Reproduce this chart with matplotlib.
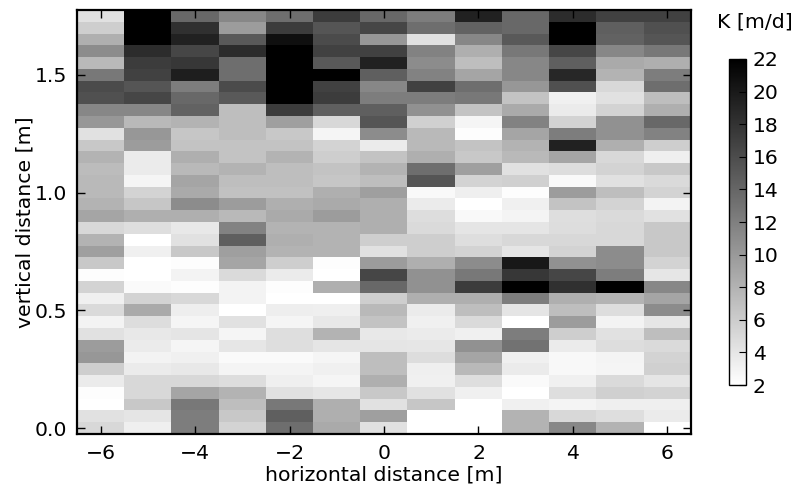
import numpy as np
import matplotlib
matplotlib.use("Agg")
import matplotlib.pyplot as plt

# K [m/d] por celda, fila de arriba (1.75 m) hacia abajo (0.0 m)
K_rows = [
    [4.4, 22, 13.8, 11.4, 13.4, 17.3, 13.8, 12.2, 19.3, 13.8, 18.5, 16.9, 16.9],
    [5.9, 22, 18.2, 9.8, 17.3, 15.3, 16.5, 13.4, 14.2, 13.8, 22, 14.5, 15.7],
    [8.3, 22, 19.3, 14.9, 20.8, 16.1, 10.2, 4.4, 11.4, 14.9, 22, 14.2, 15.3],
    [11.0, 18.5, 16.5, 18.5, 22, 16.9, 16.9, 11.8, 8.3, 12.6, 16.5, 11.4, 12.6],
    [7.5, 17.3, 17.7, 13.4, 22, 14.9, 19.3, 11.0, 7.1, 11.4, 14.5, 8.7, 8.3],
    [12.6, 16.9, 19.6, 13.4, 22, 22, 14.5, 11.8, 9.1, 11.4, 18.9, 7.9, 12.2],
    [16.1, 15.3, 12.2, 16.1, 22, 16.9, 11.4, 16.9, 13.4, 10.2, 15.7, 5.1, 13.4],
    [15.7, 16.5, 13.8, 14.9, 22, 17.3, 12.2, 12.2, 12.6, 6.7, 3.2, 4.4, 7.1],
    [11.4, 11.4, 14.2, 7.1, 17.3, 14.5, 14.5, 10.6, 6.7, 8.7, 3.6, 5.4, 8.3],
    [10.2, 7.5, 7.9, 7.1, 9.5, 5.1, 15.3, 5.7, 2.8, 11.8, 5.4, 10.6, 13.8],
    [4.4, 10.2, 6.5, 7.1, 6.3, 2.8, 11.0, 7.5, 2.2, 9.1, 12.2, 10.6, 11.8],
    [6.3, 9.8, 6.7, 6.7, 6.7, 5.4, 3.6, 7.5, 6.7, 7.9, 19.3, 8.3, 5.9],
    [7.9, 3.6, 8.3, 6.7, 7.9, 5.9, 6.7, 8.3, 6.3, 7.5, 9.1, 5.1, 3.3],
    [7.3, 3.6, 7.5, 7.9, 7.1, 6.7, 7.9, 13.4, 9.5, 4.4, 4.7, 5.4, 6.3],
    [7.5, 2.8, 9.1, 7.1, 7.1, 6.5, 7.1, 15.3, 5.5, 5.7, 2.5, 4.4, 4.9],
    [7.5, 5.5, 8.7, 6.9, 6.9, 8.3, 9.5, 2.5, 3.3, 2.2, 9.8, 7.1, 5.4],
    [7.9, 6.5, 11.0, 9.8, 8.3, 8.7, 8.3, 3.6, 2.0, 3.2, 6.7, 5.4, 3.0],
    [9.1, 8.3, 8.3, 7.5, 8.7, 9.8, 8.3, 4.7, 2.5, 2.9, 4.6, 4.9, 4.4],
    [5.1, 4.6, 3.8, 11.8, 7.9, 7.9, 8.3, 4.9, 4.1, 4.1, 4.7, 5.1, 6.3],
    [7.9, 2.0, 4.4, 14.5, 8.3, 7.9, 5.9, 5.9, 4.6, 5.1, 5.1, 5.1, 6.3],
    [9.5, 3.2, 6.3, 9.5, 7.9, 7.9, 4.4, 5.9, 5.5, 4.1, 5.4, 11.0, 6.3],
    [6.3, 2.0, 2.2, 9.1, 5.9, 2.2, 9.8, 8.3, 11.0, 20.0, 10.6, 11.0, 5.4],
    [2.2, 2.0, 3.0, 4.9, 3.6, 2.0, 16.5, 10.6, 12.6, 17.7, 16.5, 12.2, 4.0],
    [5.5, 2.4, 2.2, 3.0, 2.2, 8.3, 13.8, 10.6, 17.3, 22, 18.2, 22, 11.4],
    [3.2, 5.4, 5.1, 3.0, 2.0, 2.0, 5.9, 8.3, 8.3, 12.2, 8.3, 7.9, 9.1],
    [4.9, 8.7, 3.4, 2.0, 3.4, 3.3, 7.5, 3.6, 7.1, 4.1, 7.1, 4.7, 11.0],
    [3.0, 4.7, 2.8, 4.4, 2.8, 3.8, 6.7, 3.2, 4.9, 2.0, 9.8, 3.0, 4.0],
    [4.4, 3.8, 4.1, 2.8, 4.6, 7.9, 3.8, 3.6, 3.2, 12.2, 5.9, 4.4, 7.1],
    [9.8, 3.6, 2.8, 4.0, 4.6, 4.1, 4.1, 4.0, 10.6, 13.0, 3.6, 4.7, 4.9],
    [10.2, 3.0, 3.2, 2.4, 2.4, 2.8, 7.1, 4.7, 9.1, 3.2, 2.6, 2.9, 5.5],
    [5.9, 3.6, 3.8, 2.9, 2.9, 3.2, 7.1, 3.3, 7.5, 3.6, 2.6, 2.8, 5.7],
    [3.6, 5.1, 5.1, 4.7, 3.3, 2.8, 8.3, 3.2, 4.6, 2.4, 3.2, 4.9, 4.1],
    [2.2, 5.1, 9.1, 7.9, 4.4, 4.0, 6.3, 4.4, 3.2, 2.0, 4.6, 5.7, 5.4],
    [2.0, 6.3, 12.6, 7.1, 12.6, 8.3, 4.4, 6.5, 2.0, 3.2, 2.9, 3.3, 3.3],
    [4.4, 4.1, 12.2, 6.3, 14.5, 8.3, 9.5, 2.0, 2.0, 8.0, 5.1, 4.6, 3.6],
    [5.1, 3.3, 12.2, 5.5, 13.4, 8.7, 4.4, 2.0, 2.0, 8.0, 11.4, 7.9, 2.0],
]
x_ticks = [-6, -4, -2, 0, 2, 4, 6]
y_ticks = [0.0, 0.5, 1.0, 1.5]
cbar_ticks = [2, 4, 6, 8, 10, 12, 14, 16, 18, 20, 22]

K = np.array(K_rows)

plt.rcParams['font.family'] = 'DejaVu Sans'
plt.rcParams['font.size'] = 14.7

fig = plt.figure(figsize=(7.97, 4.86), dpi=100)
W, H = 797.0, 486.0
ax = fig.add_axes([77 / W, 1 - 434 / H, 614 / W, 424 / H])

im = ax.imshow(K, cmap='gray_r', vmin=2, vmax=22, aspect='auto',
               extent=[-6.5, 6.5, -0.025, 1.775], interpolation='nearest')

ax.set_xticks(x_ticks)
ax.set_xticklabels(['\u2212' + str(-v) if v < 0 else str(v) for v in x_ticks])
ax.set_yticks(y_ticks)
ax.tick_params(direction='in', top=True, right=True, length=6, width=1, pad=7)
for s in ax.spines.values():
    s.set_linewidth(1.6)
ax.set_xlabel('horizontal distance [m]', fontsize=14.7)
ax.set_ylabel('vertical distance [m]', fontsize=14.7)
ax.xaxis.set_label_coords(0.5, -0.0733)
ax.yaxis.set_label_coords(-0.0695, 0.5)

# barra de color
cax = fig.add_axes([729 / W, 1 - 385 / H, 17 / W, 326 / H])
cb = fig.colorbar(im, cax=cax, ticks=cbar_ticks)
cb.ax.tick_params(direction='in', length=5, width=0.8, pad=5)
cb.outline.set_linewidth(1.0)
fig.text(755 / W, 1 - 22 / H, 'K [m/d]', fontsize=14.7, ha='center', va='center')

fig.savefig('out.png', dpi=100)
